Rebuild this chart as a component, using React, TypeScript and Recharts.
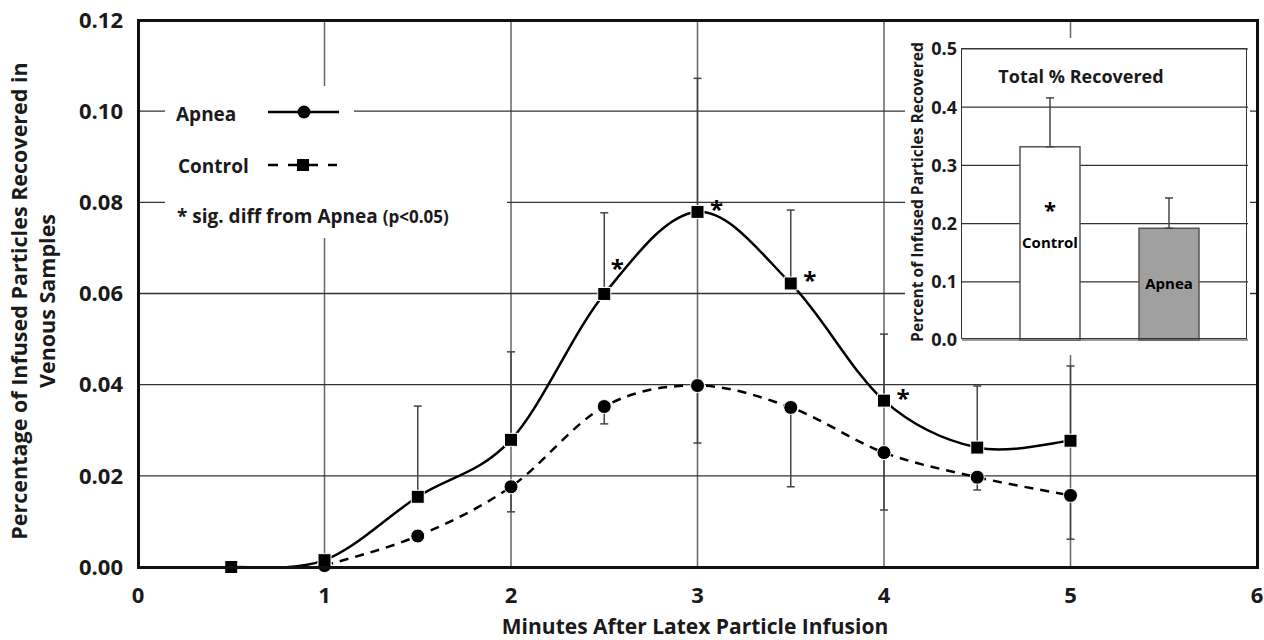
import { Bar, BarChart, CartesianGrid, ErrorBar, LabelList, Line, LineChart, XAxis, YAxis } from 'recharts'

// main panel: minutes after infusion
const controlMinutes = [0.5, 1, 1.5, 2, 2.5, 3, 3.5, 4, 4.5, 5]
const controlMean = [0, 0.0015, 0.0154, 0.0279, 0.0599, 0.0779, 0.0622, 0.0365, 0.0262, 0.0277]
const controlErrUp = [0, 0, 0.0199, 0.0193, 0.0178, 0.0293, 0.0161, 0.0146, 0.0135, 0.0164]
const controlSig = [false, false, false, false, true, true, true, true, false, false]

const apneaMinutes = [1, 1.5, 2, 2.5, 3, 3.5, 4, 4.5, 5]
const apneaMean = [0.0003, 0.0068, 0.0176, 0.0352, 0.0398, 0.035, 0.0251, 0.0197, 0.0157]
const apneaErrDown = [0, 0, 0.0055, 0.0038, 0.0126, 0.0174, 0.0126, 0.0028, 0.0096]

const xTicks = [0, 1, 2, 3, 4, 5, 6]
const yTicks = [0, 0.02, 0.04, 0.06, 0.08, 0.1, 0.12]

// inset: total recovered
const totalGroups = ['Control', 'Apnea']
const totalRecovered = [0.332, 0.192]
const totalErrUp = [0.084, 0.052]
const insetTicks = [0, 0.1, 0.2, 0.3, 0.4, 0.5]

const controlData = controlMinutes.map((x, i) => ({
  x,
  value: controlMean[i],
  err: [0, controlErrUp[i]],
  sig: controlSig[i],
  next: controlMean[i + 1] ?? 0,
}))
const apneaData = apneaMinutes.map((x, i) => ({ x, value: apneaMean[i], err: [apneaErrDown[i], 0] }))
const totalData = totalGroups.map((group, i) => ({ group, value: totalRecovered[i], err: [0, totalErrUp[i]] }))

// excel-style smoothed line (catmull-rom through the points)
const smoothCurve = (context: any) => {
  let pts: number[][] = []
  return {
    areaStart() {},
    areaEnd() {},
    lineStart() {
      pts = []
    },
    point(x: number, y: number) {
      pts.push([+x, +y])
    },
    lineEnd() {
      if (!pts.length) return
      context.moveTo(pts[0][0], pts[0][1])
      for (let i = 0; i < pts.length - 1; i++) {
        const p0 = pts[Math.max(i - 1, 0)]
        const p1 = pts[i]
        const p2 = pts[i + 1]
        const p3 = pts[Math.min(i + 2, pts.length - 1)]
        context.bezierCurveTo(
          p1[0] + (p2[0] - p0[0]) / 6,
          p1[1] + (p2[1] - p0[1]) / 6,
          p2[0] - (p3[0] - p1[0]) / 6,
          p2[1] - (p3[1] - p1[1]) / 6,
          p2[0],
          p2[1],
        )
      }
    },
  }
}

const FONT = '"Open Sans", Lato, sans-serif'
const INK = '#1a1a1a'

const SquareDot = (props: any) => {
  const { cx, cy, index } = props
  if (cx == null || cy == null) return <g key={`sq-${index}`} />
  return <rect key={`sq-${index}`} x={cx - 6.5} y={cy - 6.5} width={13} height={13} fill="#000" stroke="#fff" strokeWidth={1} />
}

const CircleDot = (props: any) => {
  const { cx, cy, index } = props
  if (cx == null || cy == null) return <g key={`ci-${index}`} />
  return <circle key={`ci-${index}`} cx={cx} cy={cy} r={7} fill="#000" stroke="#fff" strokeWidth={1} />
}

const renderStar = (props: any) => {
  const { x, y, value, index } = props
  if (!value) return null
  const rising = controlData[index].next > controlData[index].value
  return (
    <text x={x + (rising ? 13 : 19)} y={y + (rising ? -17 : 6)} textAnchor="middle" fontSize={24} fontWeight={700} fontFamily={FONT} fill="#000">
      *
    </text>
  )
}

const renderBarLabel = (props: any) => {
  const { x, y, width, height, index } = props
  const cx = x + width / 2
  const cy = y + height / 2
  return (
    <g>
      {index === 0 && (
        <text x={cx} y={cy - 25} textAnchor="middle" fontSize={22} fontWeight={700} fontFamily={FONT} fill="#000">
          *
        </text>
      )}
      <text x={cx} y={cy + 5} textAnchor="middle" fontSize={15} fontWeight={700} fontFamily={FONT} fill="#000">
        {totalGroups[index]}
      </text>
    </g>
  )
}

export default function App() {
  return (
    <div style={{ position: 'absolute', left: 0, top: 0, width: 1264, height: 640, background: '#fff', fontFamily: FONT, color: INK }}>
      <LineChart width={1264} height={640} margin={{ top: 20, right: 7, bottom: 0, left: 0 }}>
        <CartesianGrid horizontal={false} stroke="#666" strokeWidth={1.5} />
        <CartesianGrid vertical={false} stroke="#333" strokeWidth={1.4} />
        <XAxis
          type="number"
          dataKey="x"
          domain={[0, 6]}
          ticks={xTicks}
          height={73}
          axisLine={false}
          tickLine={false}
          tickMargin={14}
          tick={{ fontSize: 22, fontWeight: 700, fill: INK, fontFamily: FONT }}
          label={{
            content: () => (
              <text x={695} y={634} textAnchor="middle" fontSize={21} fontWeight={700} fontFamily={FONT} fill={INK}>
                Minutes After Latex Particle Infusion
              </text>
            ),
          }}
        />
        <YAxis
          type="number"
          domain={[0, 0.12]}
          ticks={yTicks}
          width={138}
          axisLine={false}
          tickLine={false}
          tickMargin={9}
          tickFormatter={(v: number) => v.toFixed(2)}
          tick={{ fontSize: 22, fontWeight: 700, fill: INK, fontFamily: FONT }}
          label={{
            content: () => (
              <text transform="translate(0,301) rotate(-90)" textAnchor="middle" fontSize={21.5} fontWeight={700} fontFamily={FONT} fill={INK}>
                <tspan x={0} y={27}>Percentage of Infused Particles Recovered in</tspan>
                <tspan x={0} y={55}>Venous Samples</tspan>
              </text>
            ),
          }}
        />
        <Line
          data={apneaData}
          dataKey="value"
          type={smoothCurve as any}
          stroke="#000"
          strokeWidth={2.5}
          strokeDasharray="9 7"
          dot={CircleDot}
          activeDot={false}
          isAnimationActive={false}
        >
          <ErrorBar dataKey="err" direction="y" width={4} stroke="#444" strokeWidth={1.5} />
        </Line>
        <Line
          data={controlData}
          dataKey="value"
          type={smoothCurve as any}
          stroke="#000"
          strokeWidth={2.5}
          dot={SquareDot}
          activeDot={false}
          isAnimationActive={false}
        >
          <ErrorBar dataKey="err" direction="y" width={4} stroke="#444" strokeWidth={1.5} />
          <LabelList dataKey="sig" content={renderStar} />
        </Line>
      </LineChart>

      {/* plot frame */}
      <div style={{ position: 'absolute', left: 136.5, top: 18.5, width: 1122, height: 550, border: '3px solid #111', boxSizing: 'border-box', pointerEvents: 'none' }} />

      {/* legend */}
      <div style={{ position: 'absolute', left: 165, top: 86, width: 189, height: 104, background: '#fff' }} />
      <div style={{ position: 'absolute', left: 165, top: 190, width: 342, height: 48, background: '#fff' }} />
      <svg style={{ position: 'absolute', left: 0, top: 0 }} width={1264} height={640}>
        <text x={176} y={121} fontSize={19} fontWeight={700} fontFamily={FONT} fill={INK}>Apnea</text>
        <line x1={268} y1={112} x2={339} y2={112} stroke="#000" strokeWidth={2.5} />
        <circle cx={304} cy={112} r={6.5} fill="#000" />
        <text x={178} y={173} fontSize={19} fontWeight={700} fontFamily={FONT} fill={INK}>Control</text>
        <line x1={268} y1={165} x2={337} y2={165} stroke="#000" strokeWidth={2.5} strokeDasharray="10 10" />
        <rect x={297} y={159} width={12} height={12} fill="#000" />
        <text x={177} y={223} fontSize={19} fontWeight={700} fontFamily={FONT} fill={INK}>
          * sig. diff from Apnea <tspan fontSize={17}>(p&lt;0.05)</tspan>
        </text>
      </svg>

      {/* inset background */}
      <div style={{ position: 'absolute', left: 905, top: 38, width: 345, height: 317, background: '#fff' }} />
      {/* inset */}
      <div style={{ position: 'absolute', left: 895, top: 28, width: 355, height: 332 }}>
        <BarChart width={355} height={332} data={totalData} margin={{ top: 21, right: 2, bottom: 20, left: 0 }}>
          <CartesianGrid vertical={false} stroke="#333" strokeWidth={1.2} />
          <XAxis type="category" dataKey="group" hide padding={{ left: 28, right: 20 }} />
          <YAxis
            type="number"
            domain={[0, 0.5]}
            ticks={insetTicks}
            width={67}
            axisLine={false}
            tickLine={false}
            tickSize={0}
            tickMargin={5}
            tickFormatter={(v: number) => v.toFixed(1)}
            tick={{ fontSize: 18, fontWeight: 700, fill: INK, fontFamily: FONT }}
            label={{
              content: () => (
                <text transform="translate(28,164) rotate(-90)" textAnchor="middle" fontSize={15.6} fontWeight={700} fontFamily={FONT} fill={INK}>
                  Percent of Infused Particles Recovered
                </text>
              ),
            }}
          />
          <Bar dataKey="value" barSize={60} fill="#fff" stroke="#555" strokeWidth={1.5} isAnimationActive={false}
            shape={(p: any) => (
              <rect x={p.x} y={p.y} width={p.width} height={p.height} fill={p.index === 1 ? '#a0a0a0' : '#fff'} stroke="#555" strokeWidth={1.5} />
            )}
          >
            <ErrorBar dataKey="err" direction="y" width={4} stroke="#444" strokeWidth={1.5} />
            <LabelList dataKey="group" content={renderBarLabel} />
          </Bar>
        </BarChart>
        <div style={{ position: 'absolute', left: 67, top: 21, width: 286, height: 291, border: '1.5px solid #333', boxSizing: 'border-box', pointerEvents: 'none', marginLeft: -0.75, marginTop: -0.75 }} />
        <div style={{ position: 'absolute', left: 67, width: 286, top: 36, textAlign: 'center', fontSize: 18, fontWeight: 700, transform: 'translateX(-24px)' }}>
          Total % Recovered
        </div>
      </div>
    </div>
  )
}
